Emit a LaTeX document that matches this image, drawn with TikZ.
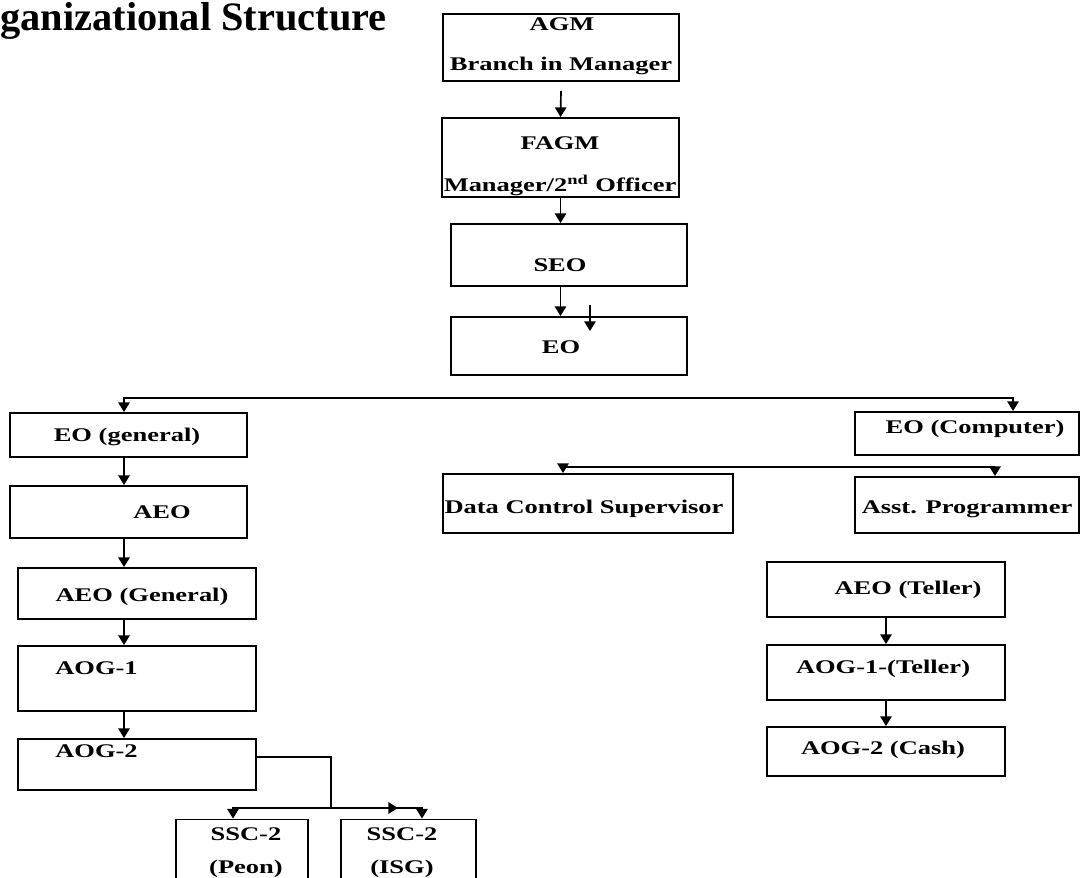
\documentclass[tikz,border=0pt]{standalone}
\usepackage{fontspec}
\setmainfont{Liberation Serif}
\newfontfamily\orgfont{Liberation Serif}[FakeStretch=1.37]
\usetikzlibrary{arrows.meta}

\tikzset{
  box/.style={draw, line width=1.1pt, inner sep=0pt},
  txt/.style={font=\orgfont\bfseries\fontsize{11pt}{13pt}\selectfont, inner sep=0pt, text height=7.3pt, text depth=0pt},
  arr/.style={line width=0.95pt, -{Triangle[length=5.5pt,width=6.5pt]}},
  line/.style={line width=0.95pt},
}

\begin{document}
\begin{tikzpicture}[x=0.02cm, y=-0.02cm]
\useasboundingbox[fill=white] (0,0) rectangle (1081,878);

% title
\node[font=\bfseries\fontsize{23pt}{28pt}\selectfont, anchor=base west, inner sep=0pt] (title) at (0,31) {ganizational Structure};

% top chain
\node[box, minimum width=4.72cm, minimum height=1.34cm] (agm) at (561,47.5) {};
\node[txt] (agmt) at (562,24) {AGM};
\node[txt] (agmb) at (561,64) {Branch in Manager};
\node[box, minimum width=4.74cm, minimum height=1.58cm] (fagm) at (560.5,157.5) {};
\node[txt] (fagmt) at (560,143) {FAGM};
\node[txt] (fagmb) at (560,185) {Manager/2\textsuperscript{nd} Officer};
\node[box, minimum width=4.72cm, minimum height=1.24cm] (seo) at (569,255) {};
\node[txt] (seot) at (560,265) {SEO};
\node[box, minimum width=4.72cm, minimum height=1.16cm] (eo) at (569,346) {};
\node[txt] (eot) at (561,347) {EO};

% left branch
\node[box, minimum width=4.74cm, minimum height=0.88cm] (egen) at (128.5,435) {};
\node[txt] (egent) at (127,435) {EO (general)};
\node[box, minimum width=4.74cm, minimum height=1.04cm] (aeo) at (128.5,512) {};
\node[txt] (aeot) at (162,512) {AEO};
\node[box, minimum width=4.76cm, minimum height=1.02cm] (aeogen) at (137,593.5) {};
\node[txt] (aeogent) at (142,595) {AEO (General)};
\node[box, minimum width=4.76cm, minimum height=1.30cm] (aog1) at (137,678.5) {};
\node[txt, anchor=west] (aog1t) at (55,668) {AOG-1};
\node[box, minimum width=4.76cm, minimum height=1.02cm] (aog2) at (137,764.5) {};
\node[txt, anchor=west] (aog2t) at (55,751) {AOG-2};
\node[box, minimum width=2.64cm, minimum height=1.62cm] (peon) at (242,860) {};
\node[txt] (peont) at (246,834) {SSC-2};
\node[txt] (peonb) at (246,867) {(Peon)};
\node[box, minimum width=2.70cm, minimum height=1.62cm] (isg) at (408.5,860) {};
\node[txt] (isgt) at (402,834) {SSC-2};
\node[txt] (isgb) at (402,867) {(ISG)};

% right branch
\node[box, minimum width=4.48cm, minimum height=0.86cm] (ecomp) at (967,433.5) {};
\node[txt] (ecompt) at (975,427) {EO (Computer)};
\node[box, minimum width=5.80cm, minimum height=1.18cm] (dcs) at (588,503.5) {};
\node[txt] (dcst) at (584,507) {Data Control Supervisor};
\node[box, minimum width=4.48cm, minimum height=1.12cm] (asst) at (967,505) {};
\node[txt] (asstt) at (967,507) {Asst. Programmer};
\node[box, minimum width=4.76cm, minimum height=1.10cm] (aeotel) at (886,589.5) {};
\node[txt] (aeotelt) at (908,588) {AEO (Teller)};
\node[box, minimum width=4.76cm, minimum height=1.10cm] (aog1tel) at (886,672.5) {};
\node[txt] (aog1telt) at (883,667) {AOG-1-(Teller)};
\node[box, minimum width=4.76cm, minimum height=0.98cm] (cash) at (886,751.5) {};
\node[txt] (casht) at (883,748) {AOG-2 (Cash)};

% connectors
\draw[arr] ([yshift=-0.18cm]agm.south) -- (fagm.north);
\draw[arr] (fagm.south) -- (fagm.south |- seo.north);
\draw[arr] (fagm.south |- seo.south) -- (fagm.south |- eo.north);
\coordinate (strayA) at (590,305);
\coordinate (strayB) at (590,331);
\draw[arr] (strayA) -- (strayB);

\coordinate (busL) at (124,398);
\coordinate (busR) at (1013,398);
\draw[arr] (busR) -- (busL) -- (busL |- egen.north);
\draw[arr] (busL) -- (busR) -- (busR |- ecomp.north);
\draw[arr] (egen.south -| busL) -- (aeo.north -| busL);
\draw[arr] (aeo.south -| busL) -- (aeogen.north -| busL);
\draw[arr] (aeogen.south -| busL) -- (aog1.north -| busL);
\draw[arr] (aog1.south -| busL) -- (aog2.north -| busL);

\coordinate (split) at (331,808);
\coordinate (midtip) at (398,808);
\draw[line] ([yshift=0.15cm]aog2.east) -| (split);
\draw[arr] (split) -| ([xshift=-0.18cm]peon.north);
\draw[arr] (split) -| ([xshift=0.27cm]isg.north);
\draw[arr] (split) -- (midtip);

\coordinate (bus2L) at (563,467);
\coordinate (bus2R) at (995,467);
\draw[arr] (bus2R) -- (bus2L) -- (bus2L |- dcs.north);
\draw[arr] (bus2L) -- (bus2R) -- (bus2R |- asst.north);

\draw[arr] (aeotel.south) -- (aog1tel.north);
\draw[arr] (aog1tel.south) -- (cash.north);
\end{tikzpicture}
\end{document}
